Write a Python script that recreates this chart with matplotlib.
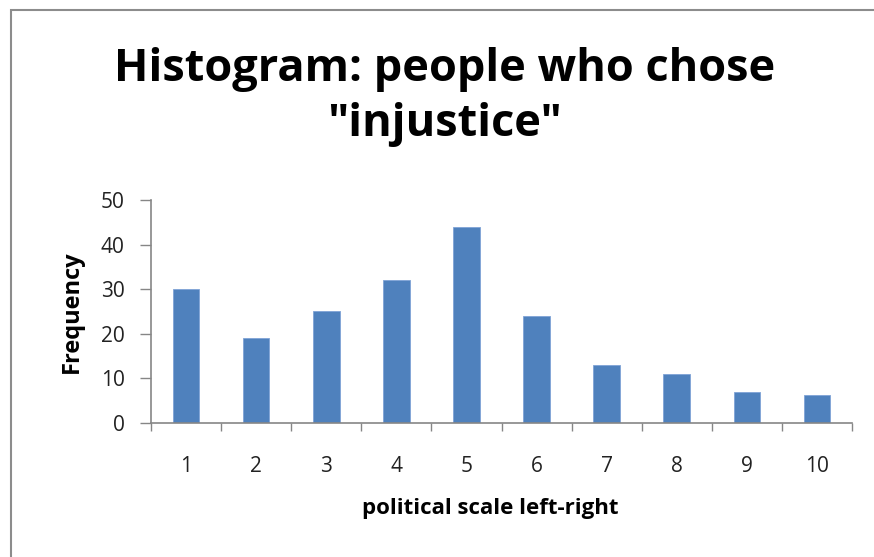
import matplotlib.pyplot as plt
from matplotlib.patches import Rectangle

# Responses per position on the political scale
positions = [1, 2, 3, 4, 5, 6, 7, 8, 9, 10]
counts = [30, 19, 25, 32, 44, 24, 13, 11, 7, 6.2]

bar_color = "#4F81BD"
axis_color = "#868686"
font = "Open Sans"

fig = plt.figure(figsize=(8.74, 5.57), dpi=100)
ax = fig.add_axes([0.1728, 0.2406, 0.802, 0.4004])

ax.bar(positions, counts, width=0.38, color=bar_color, edgecolor="#7FA3D6", linewidth=0.6)

ax.set_xlim(0.5, 10.5)
ax.set_ylim(0, 50)
ax.set_yticks(range(0, 51, 10))

# category boundaries carry the tick marks, labels sit in the middle
ax.set_xticks([p + 0.5 for p in [0] + positions], minor=True)
ax.set_xticks(positions)
ax.set_xticklabels([str(p) for p in positions], fontsize=15, family=font, color="#222222")
ax.tick_params(axis="x", which="major", length=0, pad=24)
ax.tick_params(axis="x", which="minor", length=6, width=1, color=axis_color, direction="out")
ax.tick_params(axis="y", length=8, width=1, color=axis_color, direction="out", pad=11)
for lbl in ax.get_yticklabels():
    lbl.set_fontsize(15)
    lbl.set_family(font)
    lbl.set_color("#222222")

for side in ["top", "right"]:
    ax.spines[side].set_visible(False)
for side in ["left", "bottom"]:
    ax.spines[side].set_color(axis_color)
    ax.spines[side].set_linewidth(1.2)

ax.set_xlabel("political scale left-right", fontsize=16, fontweight="bold", family=font, labelpad=15)
ax.xaxis.label.set_x(0.484)
ax.set_ylabel("Frequency", fontsize=17, fontweight="bold", family=font, labelpad=12)

fig.text(0.509, 0.826, "Histogram: people who chose\n\"injustice\"", ha="center", va="center",
         fontsize=32.5, fontweight="bold", family=font, linespacing=1.3)

# outer chart frame
fig.patches.append(Rectangle((11 / 874, -0.1), 1.2, 1.1 - 10 / 557, transform=fig.transFigure,
                             fill=False, edgecolor="#8C8C8C", linewidth=1.5))

fig.savefig("out.png", dpi=100)
